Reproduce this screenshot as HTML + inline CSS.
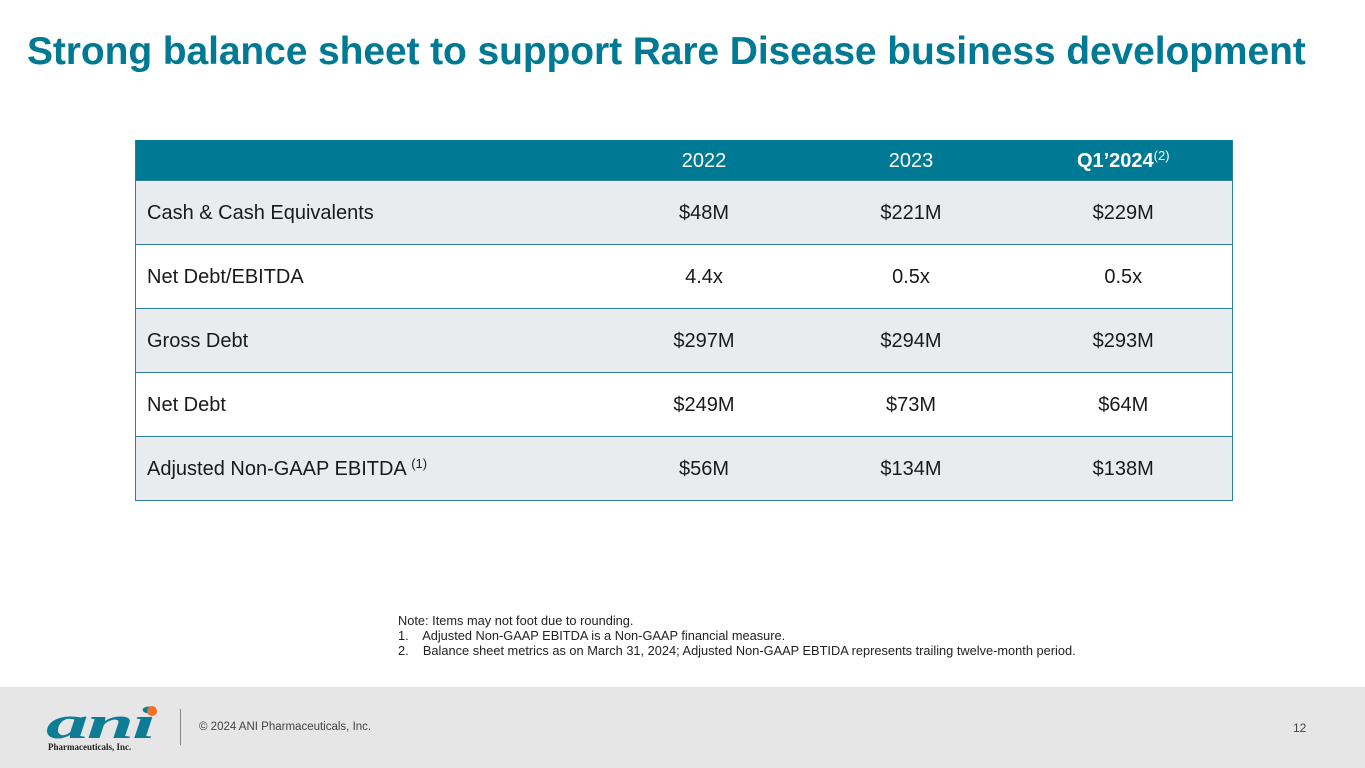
<!DOCTYPE html>
<html><head><meta charset="utf-8"><style>
body{margin:0;width:1365px;height:768px;position:relative;background:#fff;font-family:"Liberation Sans",Arial,sans-serif;overflow:hidden}
.title{position:absolute;left:27px;top:30px;font-size:39px;font-weight:bold;color:#007A94;white-space:nowrap;letter-spacing:-0.1px}
table{position:absolute;left:135px;top:140px;width:1098px;border-collapse:collapse;font-size:20px;color:#1a1a1a;table-layout:fixed}
th{background:#007A94;color:#fff;font-weight:normal;height:38px;padding:0;padding-top:2px;line-height:20px;font-size:20px}
td{height:63px;padding:0;line-height:20px;border-top:1px solid #2b7f96;text-align:center}
td:first-child{text-align:left;padding-left:11px}
tr.sh td{background:#E8ECEF}
table{border-left:1px solid #2b7f96;border-right:1px solid #2b7f96;border-bottom:1px solid #2b7f96}
sup{font-size:13px;vertical-align:7px;line-height:0}
.note{position:absolute;left:398px;top:613px;font-size:12.8px;color:#222;line-height:15px;white-space:nowrap}
.footer{position:absolute;left:0;top:687px;width:1365px;height:81px;background:#E6E6E6}
.copy{position:absolute;left:199px;top:721px;font-size:11.5px;color:#444}
.pg{position:absolute;left:1293px;top:721px;font-size:12px;color:#444}
.sep{position:absolute;left:180px;top:709px;width:1px;height:36px;background:#888}
</style></head><body>
<div class="title">Strong balance sheet to support Rare Disease business development</div>
<table>
<colgroup><col style="width:465px"><col style="width:207px"><col style="width:207px"><col></colgroup>
<tr><th></th><th>2022</th><th>2023</th><th><b>Q1’2024</b><sup>(2)</sup></th></tr>
<tr class="sh"><td>Cash &amp; Cash Equivalents</td><td>$48M</td><td>$221M</td><td>$229M</td></tr>
<tr><td>Net Debt/EBITDA</td><td>4.4x</td><td>0.5x</td><td>0.5x</td></tr>
<tr class="sh"><td>Gross Debt</td><td>$297M</td><td>$294M</td><td>$293M</td></tr>
<tr><td>Net Debt</td><td>$249M</td><td>$73M</td><td>$64M</td></tr>
<tr class="sh"><td>Adjusted Non-GAAP EBITDA <sup>(1)</sup></td><td>$56M</td><td>$134M</td><td>$138M</td></tr>
</table>
<div class="note">Note: Items may not foot due to rounding.<br>1.&nbsp;&nbsp;&nbsp; Adjusted Non-GAAP EBITDA is a Non-GAAP financial measure.<br>2.&nbsp;&nbsp;&nbsp; Balance sheet metrics as on March 31, 2024; Adjusted Non-GAAP EBTIDA represents trailing twelve-month period.</div>
<div class="footer"></div>
<svg style="position:absolute;left:44px;top:703px" width="120" height="50">
<text x="2" y="35" font-family="Liberation Serif,serif" font-style="italic" font-weight="bold" font-size="46" fill="#0E7C95" letter-spacing="-1" textLength="108" lengthAdjust="spacingAndGlyphs">ani</text>
<circle cx="108" cy="8" r="5" fill="#F36F21"/>
<text x="4" y="47" font-family="Liberation Serif,serif" font-weight="bold" font-size="9" fill="#222">Pharmaceuticals, Inc.</text>
</svg>
<div class="sep"></div>
<div class="copy">© 2024 ANI Pharmaceuticals, Inc.</div>
<div class="pg">12</div>
</body></html>
